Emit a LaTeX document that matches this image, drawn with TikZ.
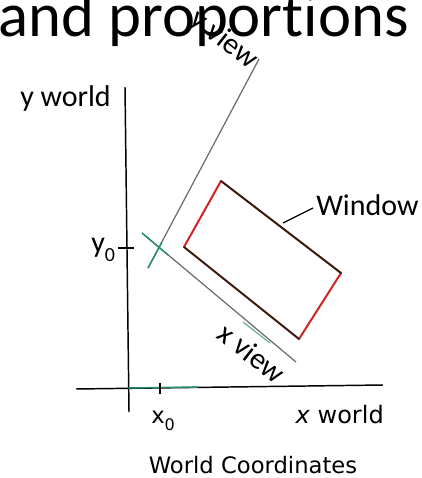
\documentclass[tikz,border=0pt]{standalone}
\usepackage{fontspec}
\setmainfont{Carlito}[RawFeature={-liga;-clig;-dlig;-calt}]
\newfontfamily\dejavu{DejaVu Sans}
\definecolor{viewgray}{RGB}{105,105,105}
\definecolor{tealg}{RGB}{40,140,110}
\definecolor{winred}{RGB}{210,35,35}
\definecolor{windark}{RGB}{60,25,10}
\tikzset{
  worldaxis/.style={black,line width=1.1pt},
  viewaxis/.style={viewgray,line width=0.9pt},
  greenpart/.style={tealg,line width=1.1pt},
  winlong/.style={windark,line width=1.5pt,line cap=round},
  winshort/.style={winred,line width=1.5pt,line cap=round},
  lbl/.style={inner sep=0pt,font=\fontsize{22.5}{26}\selectfont},
  scanlbl/.style={inner sep=0pt,font=\dejavu\fontsize{17}{20}\selectfont},
}
\begin{document}
\begin{tikzpicture}[x=0.75pt,y=-0.75pt]
\useasboundingbox (0,0) rectangle (421,478);
% world axes
\coordinate (xl) at (76,389);
\coordinate (xr) at (383,385);
\coordinate (yt) at (125,87);
\coordinate (yb) at (129,412);
\coordinate (org) at (128,388);
\coordinate (gx) at (198,387);
\draw[worldaxis] (xl) -- (xr);
\draw[worldaxis] (yt) -- (yb);
\draw[greenpart] (org) -- (gx);
% ticks
\coordinate (x0a) at (160,383);
\coordinate (x0b) at (160,394);
\draw[worldaxis] (x0a) -- (x0b);
\coordinate (y0a) at (118,248);
\coordinate (y0b) at (134,248);
\draw[worldaxis] (y0a) -- (y0b);
% view axes
\coordinate (yv0) at (148,268);
\coordinate (yv1) at (259,59);
\coordinate (yvg) at (162,242);
\coordinate (xv0) at (142,233);
\coordinate (xv1) at (296,362);
\coordinate (xvg) at (168,255);
\coordinate (xvg1) at (243,322);
\coordinate (xvg2) at (270,343);
\draw[viewaxis] (yv0) -- (yv1);
\draw[viewaxis] (xv0) -- (xv1);
\draw[greenpart] (yv0) -- (yvg);
\draw[greenpart] (xv0) -- (xvg);
\draw[tealg,line width=0.9pt,opacity=0.7] (xvg1) -- (xvg2);
% window
\coordinate (wa) at (221,181);
\coordinate (wb) at (184,247);
\coordinate (wc) at (299,339);
\coordinate (wd) at (341,273);
\draw[winshort] (wa) -- (wb);
\draw[winshort] (wc) -- (wd);
\draw[winlong] (wb) -- (wc);
\draw[winlong] (wd) -- (wa);
% Window label
\node[lbl,anchor=base west] (wlab) at (316,215) {Window};
\coordinate (lead0) at (283,223);
\coordinate (lead1) at (313,208);
\draw[black,line width=1pt] (lead0) -- (lead1);
% labels
\node[lbl,anchor=base west] (yworld) at (20,106) {y world};
\node[lbl,anchor=base west] (y0lab) at (91,252) {y\raisebox{-0.3em}{\fontsize{15}{18}\selectfont 0}};
\node[scanlbl,anchor=base west] (x0lab) at (151,423) {x\raisebox{-0.35em}{\fontsize{12}{14}\selectfont 0}};
\node[scanlbl,anchor=base east,font=\dejavu\fontsize{18}{21}\selectfont] (xworld) at (384,423) {\textit{x} world};
\node[scanlbl,anchor=base] (wcoord) at (253,473) {World Coordinates};
\node[lbl,rotate=-38] (xview) at (252,353) {x view};
\node[lbl,rotate=-38] (yview) at (224,40) {y view};
% title
\node[inner sep=0pt,anchor=base west,font=\fontsize{47}{50}\selectfont] (title) at (-2,37) {and propor\mbox{t}\mbox{i}ons};
\end{tikzpicture}
\end{document}
